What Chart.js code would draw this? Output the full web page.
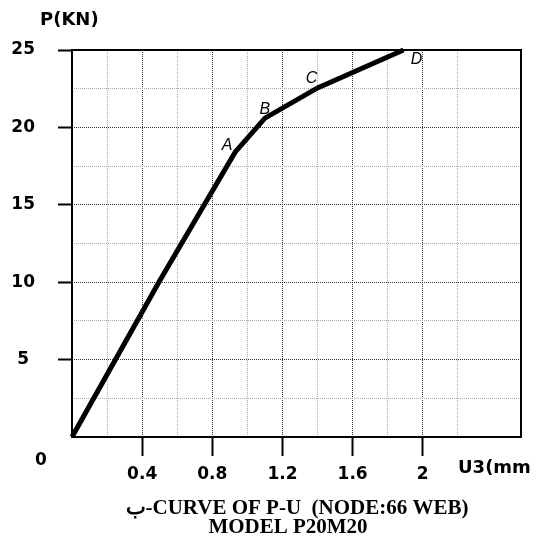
<!DOCTYPE html>
<html>
<head>
<meta charset="utf-8">
<script src="https://cdn.jsdelivr.net/npm/chart.js@4.4.1/dist/chart.umd.min.js"></script>
<style>
  body { margin: 0; background: #fff; }
  canvas { display: block; }
</style>
</head>
<body>
<canvas id="puChart" width="538" height="540"></canvas>
<script>
// displacement U3 (mm) and load P (KN)
const uValues = [0, 0.5, 0.93, 1.10, 1.40, 1.89];
const pValues = [0, 10.1, 18.4, 20.6, 22.55, 25];
const pointNames = ['', '', 'A', 'B', 'C', 'D'];

const xTickValues = [0.4, 0.8, 1.2, 1.6, 2.0];
const xTickLabels = ['0.4', '0.8', '1.2', '1.6', '2'];
const yTickValues = [5, 10, 15, 20, 25];
const yTickLabels = ['5', '10', '15', '20', '25'];

const titleLines = ['\u0628-CURVE OF P-U  (NODE:66 WEB)', 'MODEL P20M20'];

const near = (a, b) => Math.abs(a - b) < 1e-6;
const isMultiple = (v, step) => near(v / step, Math.round(v / step));

// label offsets (px) from each named point
const nameOffsets = { A: [-8, -7], B: [0, -9], C: [-6, -9], D: [13, 10] };

const extraText = {
  id: 'extraText',
  afterDraw(chart) {
    const ctx = chart.ctx;
    const area = chart.chartArea;
    const xs = chart.scales.x;
    const ys = chart.scales.y;

    // plot frame
    ctx.save();
    ctx.strokeStyle = '#000';
    ctx.lineWidth = 2;
    ctx.strokeRect(area.left, area.top, area.right - area.left, area.bottom - area.top);

    ctx.fillStyle = '#000';
    ctx.textBaseline = 'middle';

    ctx.font = 'bold 18px "DejaVu Sans"';
    ctx.textAlign = 'left';
    ctx.fillText('P(KN)', area.left - 32, area.top - 30);
    ctx.fillText('U3(mm', area.right - 63, area.bottom + 31);

    ctx.font = 'bold 17px "DejaVu Sans"';
    ctx.textAlign = 'center';
    ctx.fillText('0', xs.getPixelForValue(0) - 31, ys.getPixelForValue(0) + 24);

    // point names A..D
    ctx.font = 'italic 16px "Liberation Sans"';
    pointNames.forEach((name, i) => {
      if (!name) return;
      const off = nameOffsets[name];
      const px = xs.getPixelForValue(uValues[i]);
      const py = ys.getPixelForValue(pValues[i]);
      ctx.fillText(name, px + off[0], py + off[1]);
    });

    // caption
    ctx.font = 'bold 21px "Liberation Serif"';
    ctx.fillText(titleLines[0], 297, 509);
    ctx.fillText(titleLines[1], 288, 528);
    ctx.restore();
  }
};

new Chart(document.getElementById('puChart'), {
  type: 'line',
  data: {
    datasets: [{
      label: 'P-U',
      data: uValues.map((u, i) => ({ x: u, y: pValues[i] })),
      borderColor: '#000',
      borderWidth: 5,
      borderCapStyle: 'butt',
      borderJoinStyle: 'miter',
      pointRadius: 0,
      tension: 0,
      fill: false,
      clip: false
    }]
  },
  options: {
    responsive: false,
    animation: false,
    layout: { padding: { top: 50, right: 17, bottom: 47, left: 0 } },
    plugins: {
      legend: { display: false },
      tooltip: { enabled: false }
    },
    scales: {
      x: {
        type: 'linear',
        min: 0,
        max: 2.56,
        afterBuildTicks: s => { s.ticks = s.ticks.filter(t => t.value > 0.01 && t.value < s.max - 0.01); },
        afterFit: s => { s.height = 56; },
        ticks: {
          stepSize: 0.2,
          autoSkip: false,
          maxRotation: 0,
          padding: 8,
          color: '#000',
          font: { family: 'DejaVu Sans', size: 17, weight: 'bold' },
          callback: v => {
            const i = xTickValues.findIndex(t => near(t, v));
            return i >= 0 ? xTickLabels[i] : '';
          }
        },
        grid: {
          color: c => isMultiple(c.tick.value, 0.4) ? '#333' : '#aaa',
          lineWidth: 1,
          tickLength: 19,
          tickWidth: 2,
          tickColor: c => xTickValues.some(t => near(t, c.tick.value)) ? '#000' : 'rgba(0,0,0,0)'
        },
        border: { display: false, dash: [1, 1] }
      },
      y: {
        min: 0,
        max: 25,
        afterBuildTicks: s => { s.ticks = s.ticks.filter(t => t.value > 0.01); },
        afterFit: s => { s.width = 72; },
        ticks: {
          stepSize: 2.5,
          autoSkip: false,
          padding: 23,
          crossAlign: 'center',
          color: '#000',
          font: { family: 'DejaVu Sans', size: 17, weight: 'bold' },
          callback: v => {
            const i = yTickValues.findIndex(t => near(t, v));
            return i >= 0 ? yTickLabels[i] : '';
          }
        },
        grid: {
          color: c => near(c.tick.value, 25) ? 'rgba(0,0,0,0)' : (isMultiple(c.tick.value, 5) ? '#333' : '#aaa'),
          lineWidth: 1,
          tickLength: 14,
          tickWidth: 2,
          tickColor: c => yTickValues.some(t => near(t, c.tick.value)) ? '#000' : 'rgba(0,0,0,0)'
        },
        border: { display: false, dash: [1, 1] }
      }
    }
  },
  plugins: [extraText]
});
</script>
</body>
</html>
